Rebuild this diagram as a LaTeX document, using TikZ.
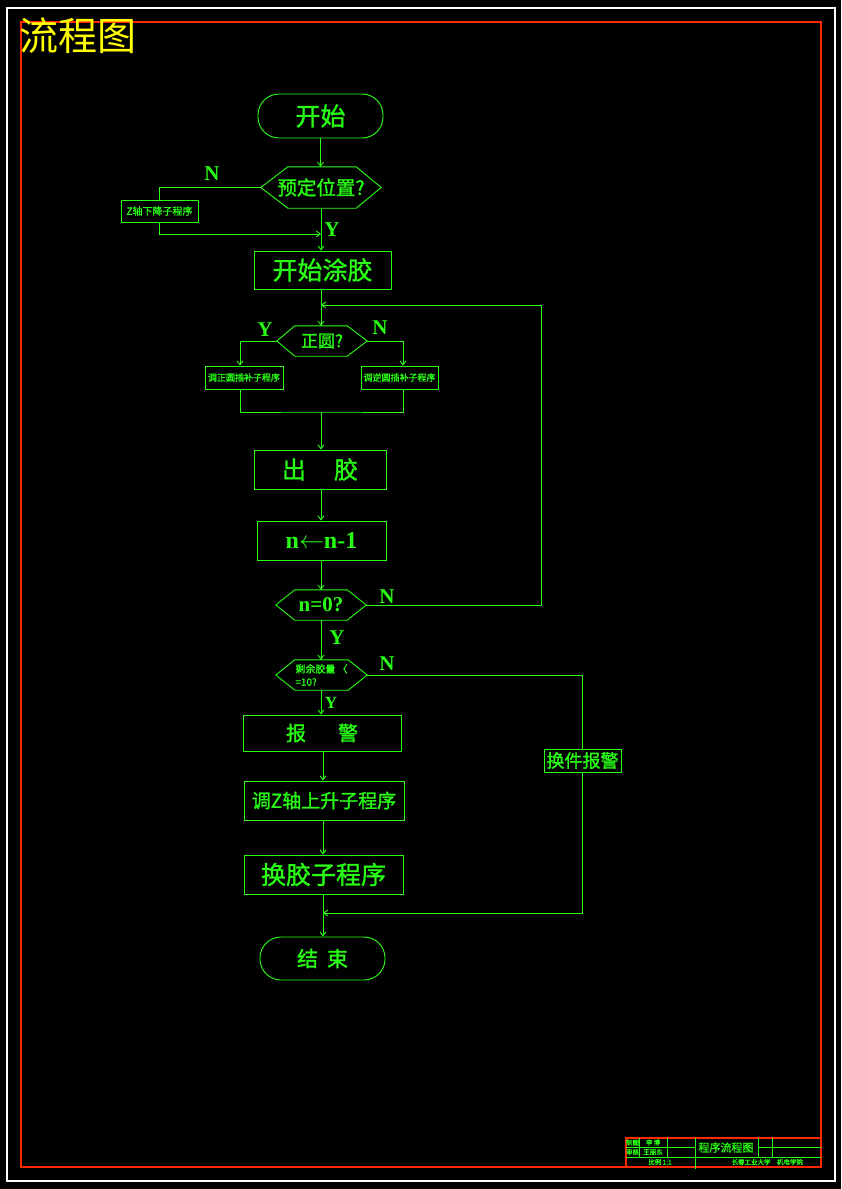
\documentclass[tikz,border=0pt]{standalone}
\usepackage{fontspec}
\setmainfont{Liberation Serif}
\newfontfamily\cjk{Noto Sans CJK SC}
\newfontfamily\cjkb{Noto Sans CJK SC}[FakeBold=1.2]
\usetikzlibrary{arrows.meta,calc}
\definecolor{cadgreen}{RGB}{40,255,20}
\definecolor{cadred}{RGB}{255,40,0}
\definecolor{cadyellow}{RGB}{255,255,0}
\newcommand\hexdraw[3]{\draw[flow] (#1.west) -- ([xshift=#2pt]#1.north west) -- ([xshift=-#3pt]#1.north east) -- (#1.east) -- ([xshift=-#3pt]#1.south east) -- ([xshift=#2pt]#1.south west) -- cycle;}
\begin{document}
\begin{tikzpicture}[x=1pt,y=-1pt,
  flow/.style={draw=cadgreen,line width=0.9pt},
  arr/.style={flow,-{Straight Barb[length=4pt,width=6pt]}},
  box/.style={draw=cadgreen,line width=0.9pt,text=cadgreen,inner sep=0pt,font=\cjkb},
  stad/.style={box,rounded corners=21pt},
  dec/.style={inner sep=0pt,text=cadgreen,font=\cjkb},
  lbl/.style={text=cadgreen,inner sep=0pt,font=\bfseries\fontsize{21}{21}\selectfont},
  tb/.style={text=cadgreen,inner sep=0pt,font=\cjkb\fontsize{6.5}{7}\selectfont}]
% background and frames
\fill[black] (0,0) rectangle (841,1189);
\useasboundingbox (0,0) rectangle (841,1189);
\draw[white,line width=1.2pt] (7,8) rectangle (835,1181);
\draw[cadred,line width=1.3pt] (21,22) rectangle (821,1167);
\node[text=cadyellow,inner sep=0pt,font=\cjk\fontsize{39}{39}\selectfont] (title) at (78,36) {流程图};
% nodes
\node[stad,minimum width=125pt,minimum height=44pt,font=\cjkb\fontsize{25}{25}\selectfont] (start) at (320.5,116) {开始};
\node[dec,minimum width=120pt,minimum height=41pt,font=\cjkb\fontsize{19.5}{20}\selectfont] (d1) at (321,187.5) {预定位置?};
\node[box,minimum width=77pt,minimum height=22pt,font=\cjkb\fontsize{10}{10}\selectfont] (zbox) at (159.5,211) {Z轴下降子程序};
\node[box,minimum width=137pt,minimum height=38pt,font=\cjkb\fontsize{25}{25}\selectfont] (kt) at (322.5,270) {开始涂胶};
\node[dec,minimum width=90pt,minimum height=30pt,font=\cjkb\fontsize{17}{17}\selectfont] (d2) at (322,341) {正圆?};
\node[box,minimum width=78pt,minimum height=23pt,font=\cjkb\fontsize{9}{9}\selectfont] (lbox) at (244,377.5) {调正圆插补子程序};
\node[box,minimum width=77pt,minimum height=23pt,font=\cjkb\fontsize{9}{9}\selectfont] (rbox) at (399.5,377.5) {调逆圆插补子程序};
\node[box,minimum width=132pt,minimum height=39pt,font=\cjkb\fontsize{24}{24}\selectfont] (cj) at (320,469.5) {出\hspace{28pt}胶};
\node[box,minimum width=129pt,minimum height=39pt,font=\bfseries\fontsize{24}{24}\selectfont] (nbox) at (321.5,540.5) {n$\leftarrow$n-1};
\node[dec,minimum width=90pt,minimum height=30pt,font=\bfseries\fontsize{21}{21}\selectfont] (d3) at (321,605) {n=0?};
\node[dec,minimum width=91pt,minimum height=30pt,align=left,font=\cjkb\fontsize{10}{13}\selectfont] (d4) at (321.5,675) {剩余胶量 〈\\=10?};
\node[box,minimum width=158pt,minimum height=36pt,font=\cjkb\fontsize{20}{20}\selectfont] (bj) at (322,733) {报\hspace{32pt}警};
\node[box,minimum width=160pt,minimum height=39pt,font=\cjkb\fontsize{19}{19}\selectfont] (tz) at (324,800.5) {调Z轴上升子程序};
\node[box,minimum width=159pt,minimum height=39pt,font=\cjkb\fontsize{25}{25}\selectfont] (hjz) at (323.5,874.5) {换胶子程序};
\node[box,minimum width=77pt,minimum height=23pt,font=\cjkb\fontsize{18}{18}\selectfont] (hj) at (582.5,760.5) {换件报警};
\node[stad,minimum width=125pt,minimum height=43pt,font=\cjkb\fontsize{21}{21}\selectfont] (end) at (322.5,958.5) {结\hspace{9pt}束};
\hexdraw{d1}{27}{25}
\hexdraw{d2}{18}{20}
\hexdraw{d3}{19}{19}
\hexdraw{d4}{19}{19}
% junction coordinates
\coordinate (j1) at (321,234);
\coordinate (j2) at (321,305);
\coordinate (lp) at (541,305);
\coordinate (m1) at (321,412);
\coordinate (j3) at (323,913);
% connectors
\draw[arr] (start.south) -- (start.south |- d1.north);
\draw[flow] (d1.west) -| (zbox.north);
\draw[arr] (zbox.south) |- (j1);
\draw[arr] (d1.south) -- (d1.south |- kt.north);
\draw[arr] (d1.south |- kt.south) -- (d1.south |- d2.north);
\draw[arr] (d3.east) -| (lp) -- (j2);
\draw[arr] (d2.west) -| ([xshift=-4pt]lbox.north);
\draw[arr] (d2.east) -| ([xshift=3.5pt]rbox.north);
\draw[flow] ([xshift=-4pt]lbox.south) |- (m1) -| ([xshift=3.5pt]rbox.south);
\draw[arr] (m1) -- (m1 |- cj.north);
\draw[arr] (m1 |- cj.south) -- (m1 |- nbox.north);
\draw[arr] (m1 |- nbox.south) -- (m1 |- d3.north);
\draw[arr] (d3.south) -- (d3.south |- d4.north);
\draw[arr] (d3.south |- d4.south) -- (d3.south |- bj.north);
\draw[flow] (d4.east) -| (hj.north);
\draw[arr] (hj.south) |- (j3);
\draw[arr] (j3 |- bj.south) -- (j3 |- tz.north);
\draw[arr] (j3 |- tz.south) -- (j3 |- hjz.north);
\draw[arr] (j3 |- hjz.south) -- (j3 |- end.north);
% labels
\node[lbl] (n1) at (212,174) {N};
\node[lbl] (y1) at (332,230) {Y};
\node[lbl] (y2) at (265,330) {Y};
\node[lbl] (n2) at (380,328) {N};
\node[lbl] (n3) at (387,597) {N};
\node[lbl] (y3) at (337,638) {Y};
\node[lbl] (n4) at (387,664) {N};
\node[lbl,font=\bfseries\fontsize{17}{17}\selectfont] (y4) at (331,703) {Y};
% title block
\draw[cadred,line width=1.2pt] (626,1167) -- (626,1138) -- (821,1138);
\draw[flow,line width=0.8pt] (626,1147) -- (695,1147) (758,1147) -- (821,1147)
  (626,1157) -- (821,1157)
  (639,1138) -- (639,1157) (667,1138) -- (667,1157)
  (695,1138) -- (695,1169) (758,1138) -- (758,1157) (772,1138) -- (772,1157);
\node[tb] (t1) at (632.5,1142.5) {制图};
\node[tb] (t2) at (653,1142.5) {李\,博};
\node[tb] (t3) at (632.5,1152) {审核};
\node[tb] (t4) at (653,1152) {王丽东};
\node[tb] (t5) at (660,1162) {比例 1:1};
\node[tb,font=\cjkb\fontsize{11}{11}\selectfont] (t6) at (726,1147.5) {程序流程图};
\node[tb] (t7) at (751,1162) {长春工业大学};
\node[tb] (t8) at (790,1162) {机电学院};
\end{tikzpicture}
\end{document}
